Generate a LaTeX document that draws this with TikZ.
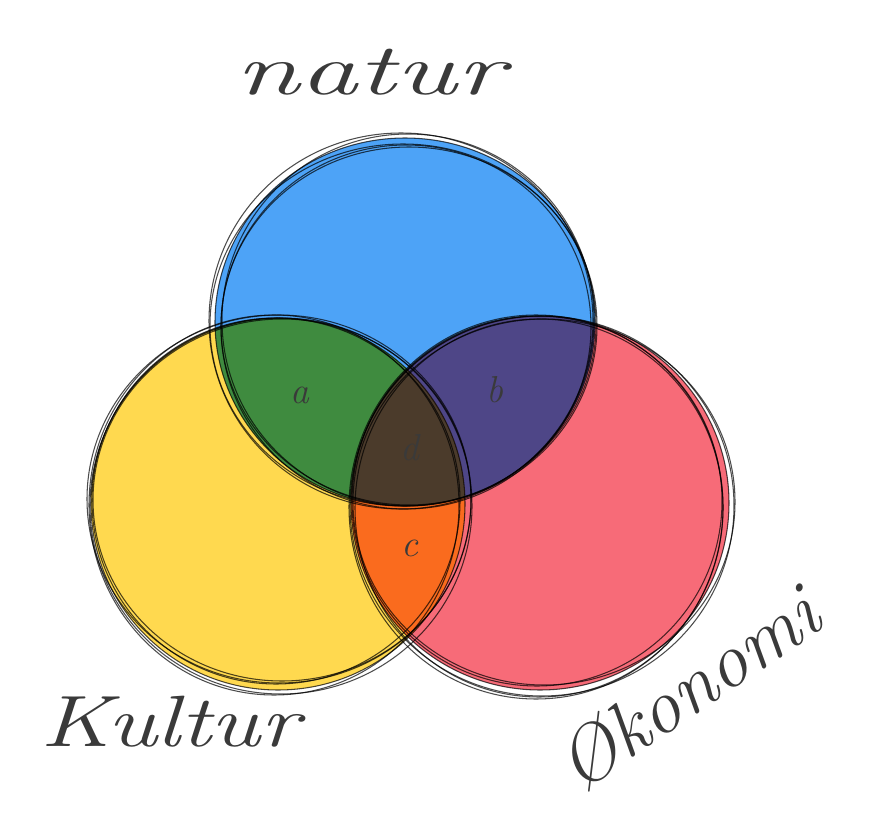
\documentclass[tikz,border=0pt]{standalone}
\usepackage{fontspec}
\definecolor{cblue}{HTML}{4DA3F7}
\definecolor{cyellow}{HTML}{FFD94F}
\definecolor{cred}{HTML}{F76B78}
\definecolor{cgreen}{HTML}{3F8B3F}
\definecolor{cpurple}{HTML}{4E4687}
\definecolor{corange}{HTML}{FA6B1E}
\definecolor{ccenter}{HTML}{4B3B2B}
\definecolor{ink}{HTML}{3A3A3A}
\tikzset{
  sketch/.style={draw=black, line width=0.9pt, opacity=0.7},
  label/.style={text=ink, font=\fontsize{32}{32}\selectfont\itshape},
  biglabel/.style={text=ink, font=\fontsize{62}{62}\selectfont\itshape},
}
\begin{document}
\begin{tikzpicture}[x=0.03cm,y=-0.03cm]
\useasboundingbox (0,0) rectangle (870,823);
\fill[white] (0,0) rectangle (870,823);
\def\blueC{(405,322) ellipse [x radius=190, y radius=184]}
\def\yellowC{(278,504) ellipse [x radius=187, y radius=186]}
\def\redC{(540,503) ellipse [x radius=189, y radius=187]}
\fill[cblue] \blueC;
\fill[cyellow] \yellowC;
\fill[cred] \redC;
\begin{scope}\clip \blueC; \fill[cgreen] \yellowC; \fill[cpurple] \redC; \end{scope}
\begin{scope}\clip \yellowC; \fill[corange] \redC; \end{scope}
\begin{scope}\clip \blueC; \clip \yellowC; \fill[ccenter] \redC; \end{scope}
% sketchy outlines
\foreach \dx/\dy/\rx/\ry in {0/0/0/0, 3/-2/-4/2, -2/3/3/-3, 4/4/-2/-5, -4/-1/2/4, 1/5/-5/-2}{
  \draw[sketch] (405+\dx,322+\dy) ellipse [x radius=190+\rx, y radius=184+\ry];
  \draw[sketch] (278+\dx,504-\dy) ellipse [x radius=187-\rx, y radius=186+\ry];
  \draw[sketch] (540-\dx,503+\dy) ellipse [x radius=189+\rx, y radius=187-\ry];
}
\node[label] (la) at (300,395) {a};
\node[label] (lb) at (495,390) {b};
\node[label] (ld) at (410,448) {d};
\node[label] (lc) at (410,548) {c};
\node[biglabel, xscale=1.6] (natur) at (370,72) {natur};
\node[biglabel, xscale=1.3] (kultur) at (170,722) {Kultur};
\node[biglabel, rotate=34, font=\fontsize{66}{66}\selectfont\itshape] (okonomi) at (688,688) {Økonomi};
\end{tikzpicture}
\end{document}
